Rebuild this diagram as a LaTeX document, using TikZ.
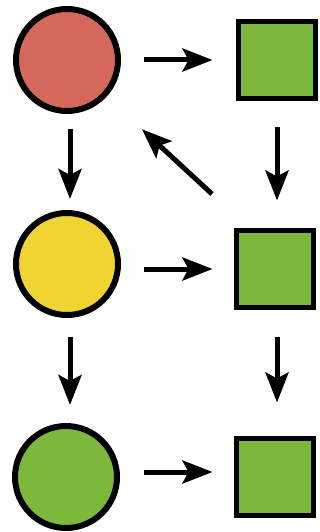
\documentclass[tikz,border=0pt]{standalone}
\usetikzlibrary{arrows.meta}
\definecolor{cred}{HTML}{D4685A}
\definecolor{cyellow}{HTML}{F0D434}
\definecolor{cgreen}{HTML}{7CB83C}
\begin{document}
\begin{tikzpicture}[x=1pt,y=-1pt,
  circ/.style={circle,draw=black,line width=6pt,inner sep=0pt,outer sep=0pt,minimum size=102pt},
  sq/.style={rectangle,draw=black,line width=5pt,inner sep=0pt,outer sep=0pt,minimum size=77pt},
  conn/.style={line width=5pt,-{Stealth[length=30pt,width=23pt,inset=6pt]}}]
\path[use as bounding box,fill=white] (0,0) rectangle (320,532);
\node[circ,fill=cred]    (c1) at (67,60) {};
\node[circ,fill=cyellow] (c2) at (67,264) {};
\node[circ,fill=cgreen]  (c3) at (66,477) {};
\node[sq,fill=cgreen] (s1) at (277,60) {};
\node[sq,fill=cgreen] (s2) at (275,269) {};
\node[sq,fill=cgreen] (s3) at (275,477) {};
\coordinate (d0) at (212,194);
% horizontal
\draw[conn,shorten <=26pt,shorten >=26pt] (c1) -- (s1);
\draw[conn,shorten <=26pt,shorten >=24pt] (c2.east |- s2.center) -- (s2.west);
\draw[conn,shorten <=27pt,shorten >=24pt] (c3.east |- 0,472) -- (s3.west |- 0,472);
% vertical
\draw[conn,shorten <=18pt,shorten >=14pt] (c1.south -| 70,0) -- (c2.north -| 70,0);
\draw[conn,shorten <=22pt,shorten >=21pt] (c2.south -| 70,0) -- (c3.north -| 70,0);
\draw[conn,shorten <=28pt,shorten >=30pt] (s1.south) -- (s2.north -| s1.south);
\draw[conn,shorten <=29pt,shorten >=36pt] (s2.south -| s1.south) -- (s3.north -| s1.south);
% diagonal
\draw[conn,shorten >=102pt] (d0) -- (c1.center);
\end{tikzpicture}
\end{document}
